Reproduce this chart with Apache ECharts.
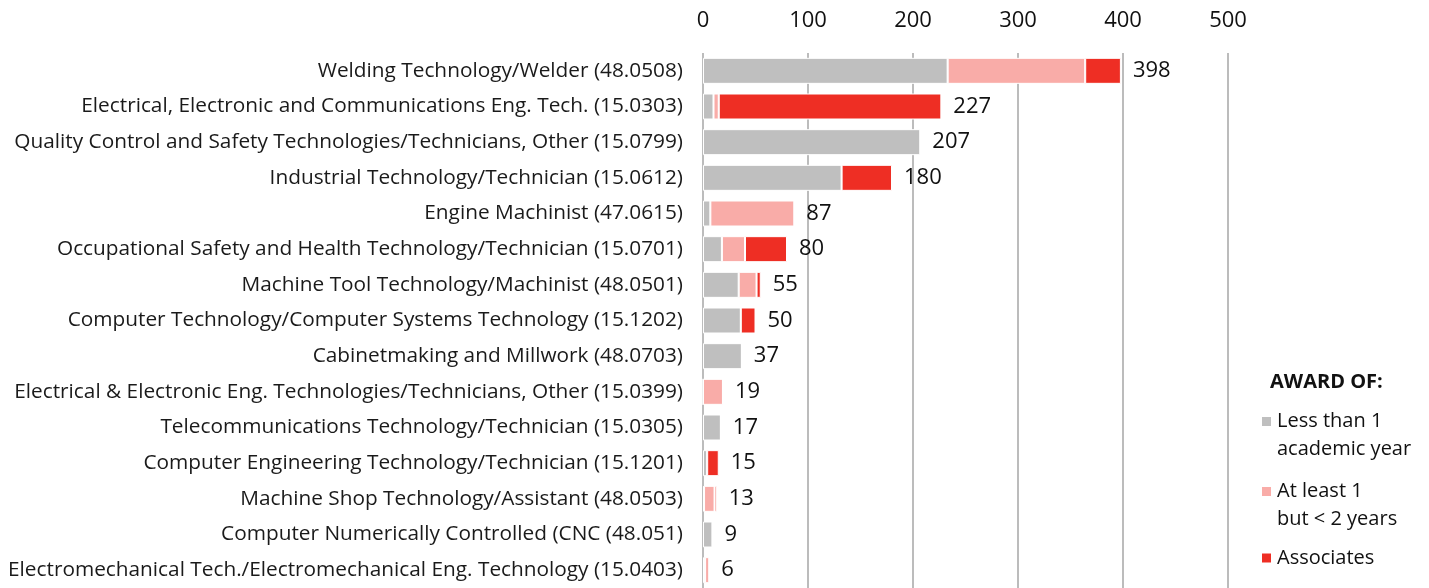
<!DOCTYPE html>
<html>
<head>
<meta charset="utf-8">
<script src="https://cdn.jsdelivr.net/npm/echarts@6/dist/echarts.min.js"></script>
<style>
  html, body { margin: 0; padding: 0; background: #fff; }
  #chart { width: 1429px; height: 588px; }
</style>
</head>
<body>
<div id="chart"></div>
<script>
// programs (top to bottom)
const programs = [
  'Welding Technology/Welder (48.0508)',
  'Electrical, Electronic and Communications Eng. Tech. (15.0303)',
  'Quality Control and Safety Technologies/Technicians, Other (15.0799)',
  'Industrial Technology/Technician (15.0612)',
  'Engine Machinist (47.0615)',
  'Occupational Safety and Health Technology/Technician (15.0701)',
  'Machine Tool Technology/Machinist (48.0501)',
  'Computer Technology/Computer Systems Technology (15.1202)',
  'Cabinetmaking and Millwork (48.0703)',
  'Electrical & Electronic Eng. Technologies/Technicians, Other (15.0399)',
  'Telecommunications Technology/Technician (15.0305)',
  'Computer Engineering Technology/Technician (15.1201)',
  'Machine Shop Technology/Assistant (48.0503)',
  'Computer Numerically Controlled (CNC (48.051)',
  'Electromechanical Tech./Electromechanical Eng. Technology (15.0403)'
]
// award counts
const lessThan1 = [233, 10, 207, 132, 7, 18, 34, 36, 37, 0, 17, 4, 1, 9, 2]
const oneToTwo  = [131, 5, 0, 0, 80, 22, 17, 0, 0, 19, 0, 0, 10, 0, 4]
const associates = [34, 212, 0, 48, 0, 40, 4, 14, 0, 0, 0, 11, 2, 0, 0]
const totals = [398, 227, 207, 180, 87, 80, 55, 50, 37, 19, 17, 15, 13, 9, 6]
const awardNames = ['Less than 1\nacademic year', 'At least 1\nbut < 2 years', 'Associates']

const FONT = '"Open Sans", "Noto Sans", sans-serif'
const myChart = echarts.init(document.getElementById('chart'))

function seg(name, data, color) {
  return {
    name: name,
    type: 'bar',
    stack: 'award',
    barWidth: 26,
    data: data,
    itemStyle: { color: color, borderColor: '#fff', borderWidth: 1 },
    emphasis: { disabled: true },
    silent: true
  }
}

// square at the top of a tall box (tiny speck at the bottom keeps the box tall),
// so the icon sits on the first text line
const topSquare = 'path://M0 0H11V11H0Z M0 37.9L0.1 38L0 38Z'
const legendText = { fontFamily: FONT, fontSize: 20, color: '#111', lineHeight: 28 }

let option = {
  animation: false,
  backgroundColor: '#fff',
  textStyle: { fontFamily: FONT },
  grid: { left: 703, top: 53, width: 525, height: 539 },
  title: {
    text: 'AWARD OF:',
    left: 1265, top: 367,
    textStyle: { fontFamily: FONT, fontSize: 20, fontWeight: 'bold', color: '#111' }
  },
  legend: [
    {
      orient: 'vertical',
      left: 1255, top: 402,
      itemWidth: 11, itemHeight: 38,
      itemGap: 14,
      icon: topSquare,
      data: awardNames.slice(0, 2),
      textStyle: legendText
    },
    {
      orient: 'vertical',
      left: 1255, top: 539,
      itemWidth: 11, itemHeight: 11,
      icon: 'rect',
      data: awardNames.slice(2),
      textStyle: legendText
    }
  ],
  xAxis: {
    type: 'value',
    position: 'top',
    min: 0, max: 500, interval: 100,
    axisLine: { show: false },
    axisTick: { show: false },
    axisLabel: { fontSize: 22, color: '#111', margin: 21 },
    splitLine: { show: true, lineStyle: { color: '#a6a6a6', width: 1.5 } }
  },
  yAxis: {
    type: 'category',
    inverse: true,
    data: programs,
    axisLine: { show: false },
    axisTick: { show: false },
    axisLabel: { fontSize: 20.8, color: '#1a1a1a', margin: 20 }
  },
  series: [
    seg(awardNames[0], lessThan1, '#bfbfbf'),
    seg(awardNames[1], oneToTwo, '#f9aca8'),
    seg(awardNames[2], associates, '#ee2e24'),
    {
      // invisible series carrying the total labels
      name: 'total',
      type: 'bar',
      barWidth: 26,
      barGap: '-100%',
      data: totals,
      itemStyle: { color: 'transparent' },
      silent: true,
      z: 1,
      label: {
        show: true,
        position: 'right',
        distance: 12,
        fontSize: 22,
        color: '#111',
        fontFamily: FONT
      }
    }
  ]
}
myChart.setOption(option)
</script>
</body>
</html>
